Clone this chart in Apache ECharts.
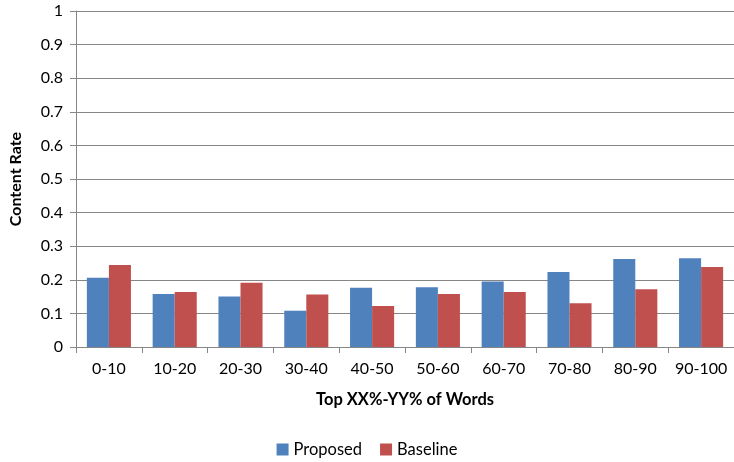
<!DOCTYPE html>
<html>
<head>
<meta charset="utf-8">
<script src="https://cdn.jsdelivr.net/npm/echarts@6/dist/echarts.min.js"></script>
<style>
  html, body { margin: 0; padding: 0; background: #fff; }
  #chart { width: 734px; height: 462px; }
</style>
</head>
<body>
<div id="chart"></div>
<script>
var categories = ['0-10', '10-20', '20-30', '30-40', '40-50', '50-60', '60-70', '70-80', '80-90', '90-100']
var proposed = [0.206, 0.158, 0.150, 0.108, 0.176, 0.178, 0.195, 0.223, 0.262, 0.264]
var baseline = [0.244, 0.164, 0.191, 0.156, 0.122, 0.158, 0.164, 0.130, 0.172, 0.238]

var font = 'Lato, "Open Sans", sans-serif'
var chart = echarts.init(document.getElementById('chart'))
chart.setOption({
  animation: false,
  textStyle: { fontFamily: font },
  grid: { left: 75, top: 11, width: 662, height: 336 },
  legend: {
    top: 436,
    left: 'center',
    itemWidth: 12,
    itemHeight: 12,
    itemGap: 18,
    icon: 'rect',
    textStyle: { fontSize: 16.5, color: '#000', fontFamily: font },
    data: ['Proposed', 'Baseline']
  },
  xAxis: {
    type: 'category',
    data: categories,
    name: 'Top XX%-YY% of Words',
    nameLocation: 'middle',
    nameGap: 44,
    nameTextStyle: { fontSize: 16.5, fontWeight: 'bold', color: '#000', fontFamily: font },
    axisLine: { lineStyle: { color: '#868686' } },
    axisTick: { show: true, interval: 0, length: 6, lineStyle: { color: '#868686' } },
    axisLabel: { interval: 0, fontSize: 16, color: '#000', margin: 14 }
  },
  yAxis: {
    type: 'value',
    min: 0,
    max: 1,
    interval: 0.1,
    name: 'Content Rate',
    nameLocation: 'middle',
    nameGap: 52,
    nameTextStyle: { fontSize: 16, fontWeight: 'bold', color: '#000', fontFamily: font },
    axisLine: { show: true, lineStyle: { color: '#868686' } },
    axisTick: { show: true, length: 6, lineStyle: { color: '#868686' } },
    splitLine: { lineStyle: { color: '#868686' } },
    axisLabel: { fontSize: 16, color: '#000', margin: 13 }
  },
  series: [
    {
      name: 'Proposed',
      type: 'bar',
      data: proposed,
      barGap: '0%',
      barCategoryGap: '33%',
      itemStyle: { color: '#4F81BD' }
    },
    {
      name: 'Baseline',
      type: 'bar',
      data: baseline,
      itemStyle: { color: '#C0504D' }
    }
  ]
})
</script>
</body>
</html>
